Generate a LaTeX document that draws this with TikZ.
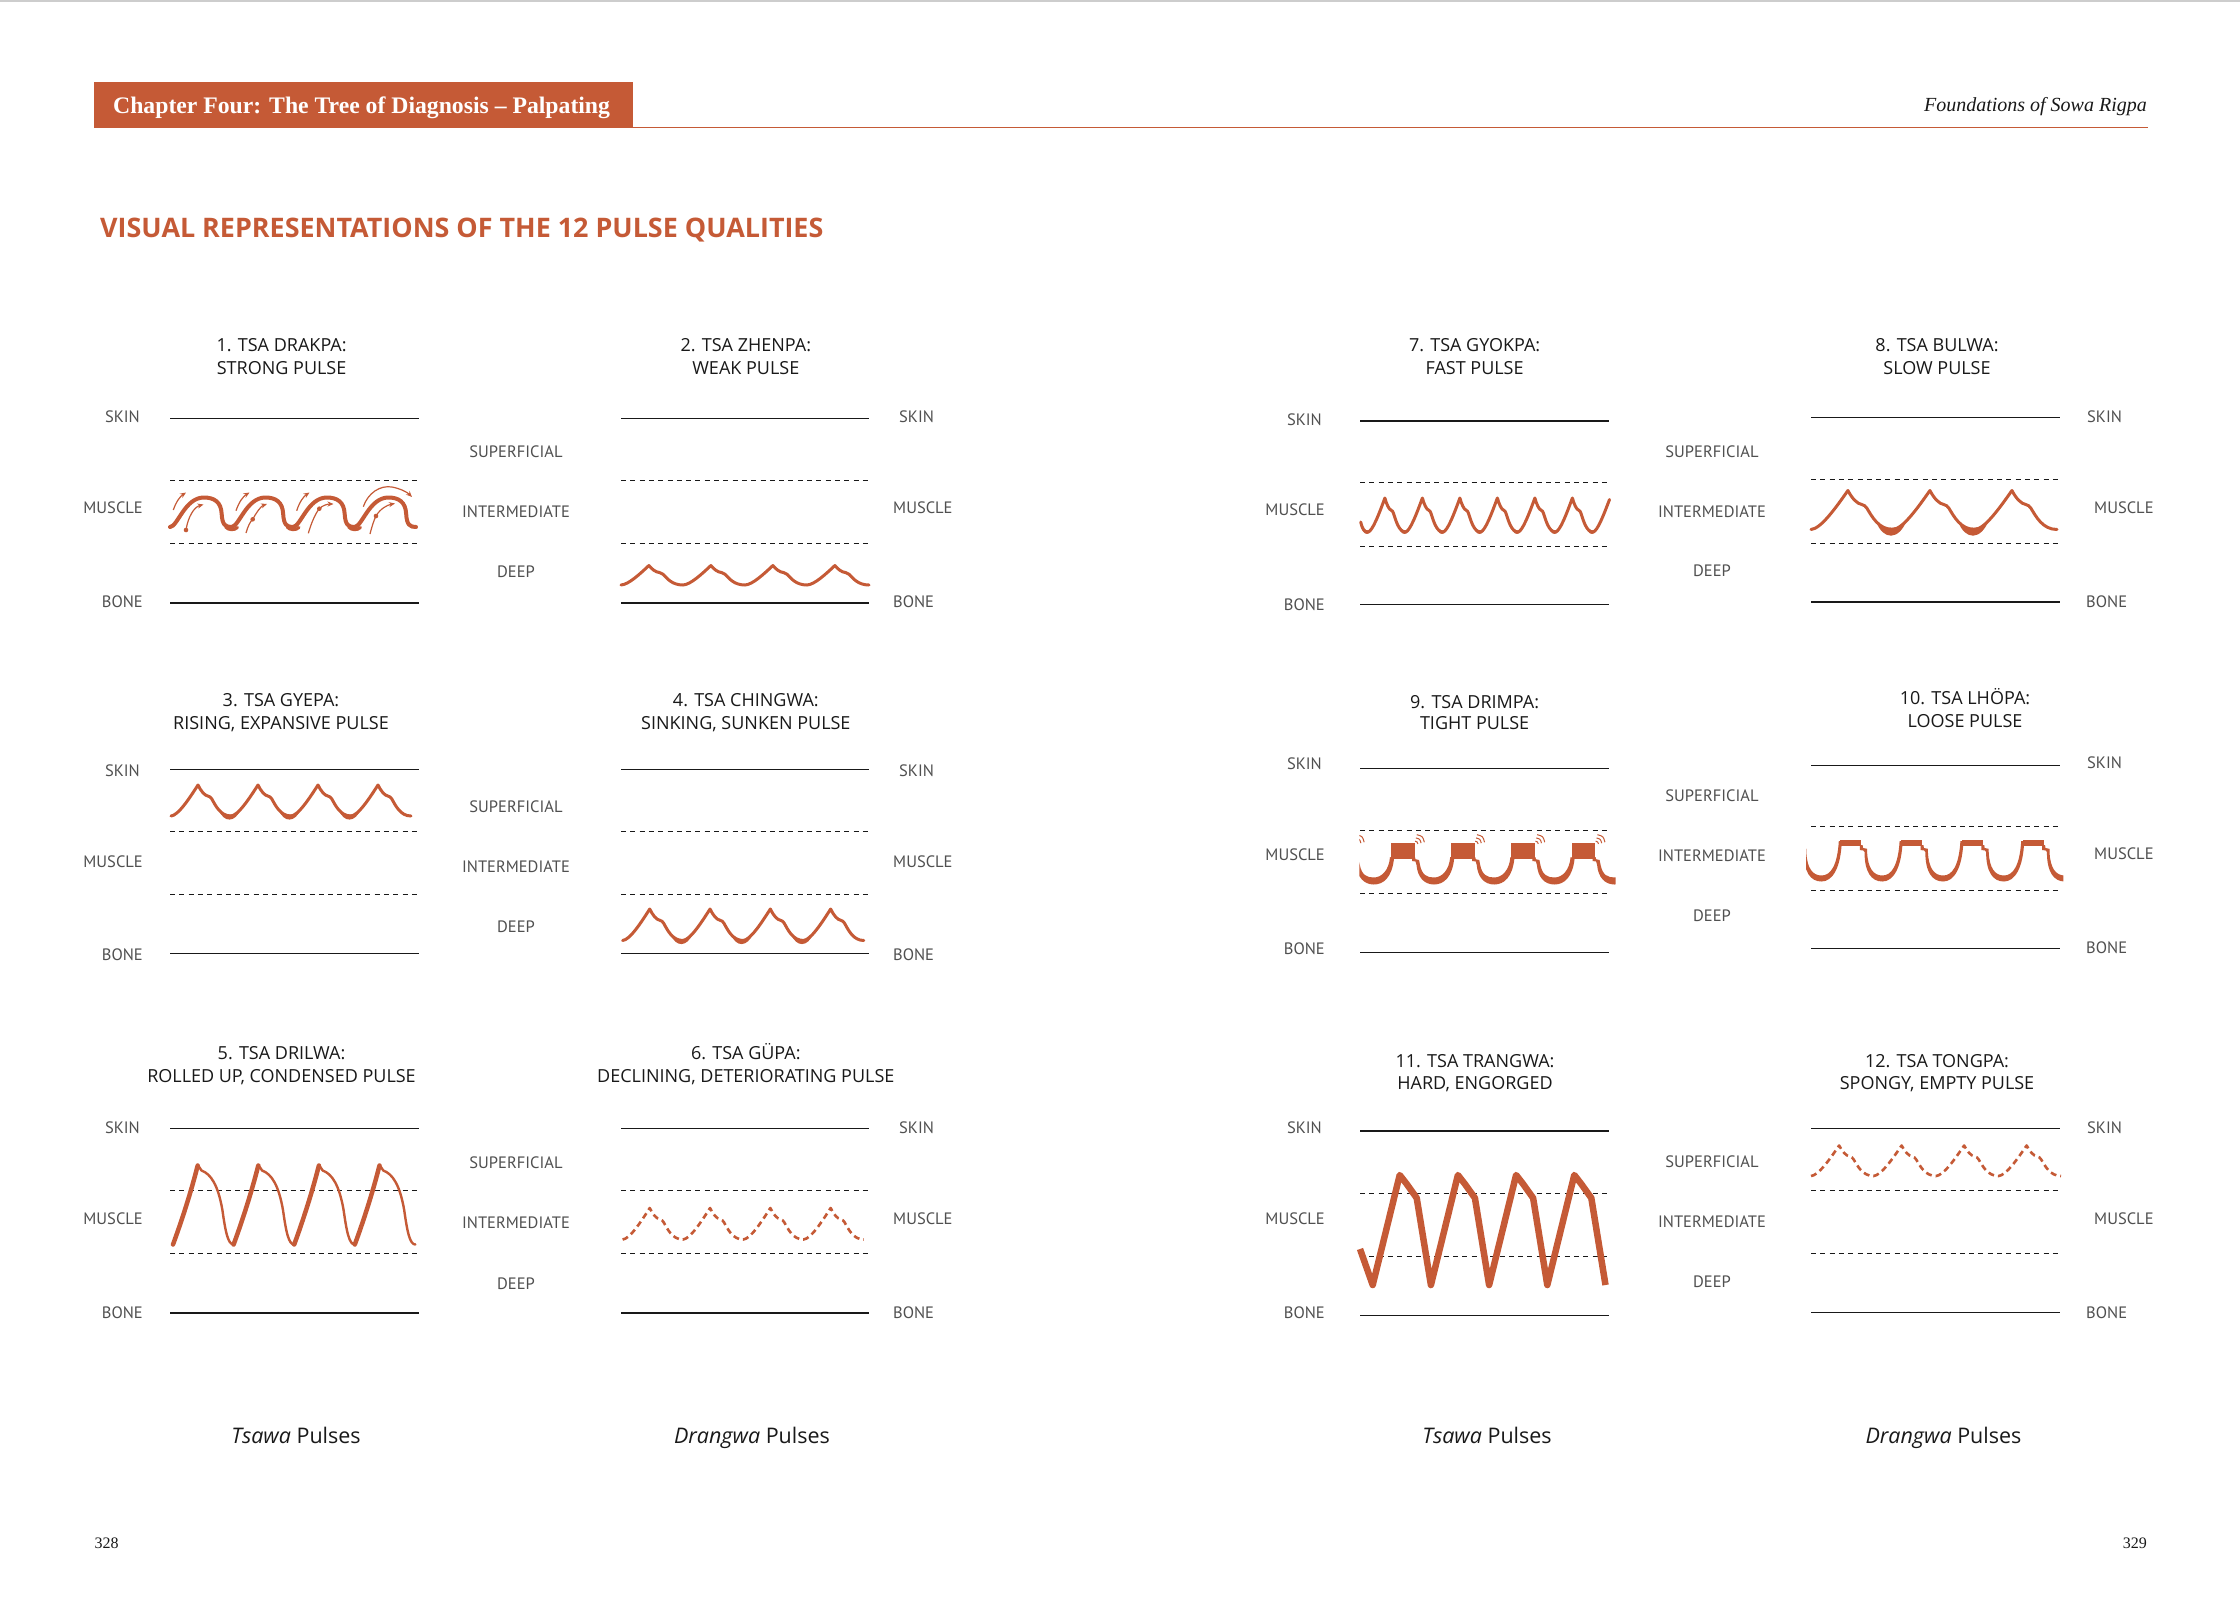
\documentclass[tikz,border=0pt]{standalone}
\usepackage{fontspec}
\setmainfont{Liberation Serif}
\newfontfamily\labfont{PT Sans}
\newfontfamily\ttlfont{Open Sans}
\usetikzlibrary{arrows.meta}
\definecolor{ora}{RGB}{197,90,54}
\definecolor{labgray}{RGB}{80,80,80}
\definecolor{ink}{RGB}{25,25,25}
\definecolor{topgray}{RGB}{205,205,205}
\tikzset{
  lvl/.style={draw=ink, line width=1.6pt},
  dsh/.style={draw=ink, line width=1.5pt, dash pattern=on 5pt off 4.3pt},
  lbl/.style={font=\labfont\fontsize{16.5}{19}\selectfont, text=labgray, inner sep=0pt},
  ttl/.style={font=\ttlfont\fontsize{18}{20}\selectfont, text=ink, inner sep=0pt, anchor=base},
  wave/.style={draw=ora, line width=3pt, line cap=round, line join=round},
  dwave/.style={line width=2.6pt, line cap=butt, dash pattern=on 6pt off 4pt},
  arr/.style={draw=ora, line width=1.2pt, -{Stealth[length=6pt,width=5pt]}},
  capt/.style={font=\ttlfont\fontsize{21.5}{24}\selectfont, text=ink, inner sep=0pt, anchor=base},
}
\newcommand\levels[6]{%
  \draw[lvl] (#1,#3) -- (#2,#3);
  \draw[dsh] (#1,#4) -- (#2,#4);
  \draw[dsh] (#1,#5) -- (#2,#5);
  \draw[lvl] (#1,#6) -- (#2,#6);}
% x0, ybase, period, amplitude, last index, extra style
\newcommand\artwave[6]{%
  \draw[wave,#6] (#1,#2) \foreach \k in {0,...,#5}{
    .. controls ({#1+(\k+0.12)*#3},{#2-0.02*#4}) and ({#1+(\k+0.30)*#3},{#2-0.55*#4}) .. ({#1+(\k+0.45)*#3},{#2-#4})
    .. controls ({#1+(\k+0.50)*#3},{#2-0.80*#4}) and ({#1+(\k+0.56)*#3},{#2-0.66*#4}) .. ({#1+(\k+0.62)*#3},{#2-0.64*#4})
    .. controls ({#1+(\k+0.65)*#3},{#2-0.63*#4}) and ({#1+(\k+0.66)*#3},{#2-0.60*#4}) .. ({#1+(\k+0.68)*#3},{#2-0.55*#4})
    .. controls ({#1+(\k+0.74)*#3},{#2-0.35*#4}) and ({#1+(\k+0.82)*#3},{#2}) .. ({#1+(\k+1)*#3},{#2})
  };}
% trough T, ybase, period, amplitude, depth
\newcommand\crescent[5]{%
  \fill[ora] ({#1-0.205*#3},{#2-0.2*#4}) .. controls ({#1-0.12*#3},{#2+#5}) and ({#1+0.07*#3},{#2+#5}) .. ({#1+0.167*#3},{#2-0.231*#4})
    .. controls ({#1+0.07*#3},{#2+0.5}) and ({#1-0.1*#3},{#2+0.5}) .. cycle;}
\begin{document}
\begin{tikzpicture}[x=1pt,y=-1pt]
\useasboundingbox (0,0) rectangle (2240,1604);
\fill[white] (0,0) rectangle (2240,1604);
\draw[topgray, line width=2pt] (0,1) -- (2240,1);

% ---------- header ----------
\fill[ora] (94,82) rectangle (633,128);
\draw[ora, line width=1.5pt] (633,127.3) -- (2148,127.3);
\node[anchor=base west, inner sep=0pt, text=white, font=\bfseries\fontsize{23.7}{26}\selectfont] (chap) at (113,113.3) {Chapter Four: The Tree of Diagnosis – Palpating};
\node[anchor=base east, inner sep=0pt, text=ink, font=\itshape\fontsize{20}{24}\selectfont] (book) at (2147,111.7) {Foundations of Sowa Rigpa};
\node[anchor=base west, inner sep=0pt, text=ora, font=\ttlfont\bfseries\fontsize{26.9}{30}\selectfont] (head) at (100,237.5) {VISUAL REPRESENTATIONS OF THE 12 PULSE QUALITIES};

% ---------- level lines ----------
\levels{170}{419}{418.3}{480.3}{543.3}{602.7}
\levels{621}{869.4}{418.3}{480.3}{543.3}{602.7}
\levels{170}{419}{769.3}{831.3}{894.3}{953.3}
\levels{621}{869.4}{769.3}{831.3}{894.3}{953.3}
\levels{170}{419}{1128.3}{1190.3}{1253.3}{1312.7}
\levels{621}{869.4}{1128.3}{1190.3}{1253.3}{1312.7}
\levels{1360}{1609}{421}{482.3}{546.3}{604.3}
\levels{1811}{2060}{417.3}{479.3}{543.3}{601.7}
\levels{1360}{1609}{768.3}{830.3}{893.3}{952.3}
\levels{1811}{2060}{765.3}{826.6}{890.3}{948.3}
\levels{1360}{1609}{1131}{1193.3}{1256.3}{1315.3}
\levels{1811}{2060}{1128.3}{1190.3}{1253.3}{1312.3}

% ---------- titles ----------
\node[ttl] (t1a) at (281.6,351) {1. TSA DRAKPA:};
\node[ttl] (t1b) at (281.6,374) {STRONG PULSE};
\node[ttl] (t2a) at (745.8,351) {2. TSA ZHENPA:};
\node[ttl] (t2b) at (745.8,374) {WEAK PULSE};
\node[ttl] (t3a) at (281,706) {3. TSA GYEPA:};
\node[ttl] (t3b) at (281,729) {RISING, EXPANSIVE PULSE};
\node[ttl] (t4a) at (745.8,706) {4. TSA CHINGWA:};
\node[ttl] (t4b) at (745.8,729) {SINKING, SUNKEN PULSE};
\node[ttl] (t5a) at (281.5,1059.5) {5. TSA DRILWA:};
\node[ttl] (t5b) at (281.5,1082.3) {ROLLED UP, CONDENSED PULSE};
\node[ttl] (t6a) at (745.8,1059.5) {6. TSA GÜPA:};
\node[ttl] (t6b) at (745.8,1082.3) {DECLINING, DETERIORATING PULSE};
\node[ttl] (t7a) at (1474.6,351) {7. TSA GYOKPA:};
\node[ttl] (t7b) at (1474.6,374) {FAST PULSE};
\node[ttl] (t8a) at (1937,351) {8. TSA BULWA:};
\node[ttl] (t8b) at (1937,374) {SLOW PULSE};
\node[ttl] (t9a) at (1474.6,708) {9. TSA DRIMPA:};
\node[ttl] (t9b) at (1474.6,729.5) {TIGHT PULSE};
\node[ttl] (t10a) at (1965,704.5) {10. TSA LHÖPA:};
\node[ttl] (t10b) at (1965,727) {LOOSE PULSE};
\node[ttl] (t11a) at (1475,1067) {11. TSA TRANGWA:};
\node[ttl] (t11b) at (1475,1089) {HARD, ENGORGED};
\node[ttl] (t12a) at (1937,1067) {12. TSA TONGPA:};
\node[ttl] (t12b) at (1937,1089) {SPONGY, EMPTY PULSE};

% ---------- labels, left page ----------
\node[lbl, anchor=base east] (sa1) at (140,422.5) {SKIN};
\node[lbl, anchor=base east] (ma1) at (143,513.5) {MUSCLE};
\node[lbl, anchor=base east] (ba1) at (143,607.5) {BONE};
\node[lbl, anchor=base west] (sb1) at (899,422.5) {SKIN};
\node[lbl, anchor=base west] (mb1) at (893,513.5) {MUSCLE};
\node[lbl, anchor=base west] (bb1) at (893,607.5) {BONE};
\node[lbl, anchor=base] (su1) at (516,457.5) {SUPERFICIAL};
\node[lbl, anchor=base] (in1) at (516,517.5) {INTERMEDIATE};
\node[lbl, anchor=base] (de1) at (516,577.5) {DEEP};

\node[lbl, anchor=base east] (sa2) at (140,776.5) {SKIN};
\node[lbl, anchor=base east] (ma2) at (143,867.5) {MUSCLE};
\node[lbl, anchor=base east] (ba2) at (143,960.7) {BONE};
\node[lbl, anchor=base west] (sb2) at (899,776.5) {SKIN};
\node[lbl, anchor=base west] (mb2) at (893,867.5) {MUSCLE};
\node[lbl, anchor=base west] (bb2) at (893,960.7) {BONE};
\node[lbl, anchor=base] (su2) at (516,812.5) {SUPERFICIAL};
\node[lbl, anchor=base] (in2) at (516,872.5) {INTERMEDIATE};
\node[lbl, anchor=base] (de2) at (516,932.5) {DEEP};

\node[lbl, anchor=base east] (sa3) at (140,1133.5) {SKIN};
\node[lbl, anchor=base east] (ma3) at (143,1224.5) {MUSCLE};
\node[lbl, anchor=base east] (ba3) at (143,1318.5) {BONE};
\node[lbl, anchor=base west] (sb3) at (899,1133.5) {SKIN};
\node[lbl, anchor=base west] (mb3) at (893,1224.5) {MUSCLE};
\node[lbl, anchor=base west] (bb3) at (893,1318.5) {BONE};
\node[lbl, anchor=base] (su3) at (516,1168.5) {SUPERFICIAL};
\node[lbl, anchor=base] (in3) at (516,1228.5) {INTERMEDIATE};
\node[lbl, anchor=base] (de3) at (516,1289) {DEEP};

% ---------- labels, right page ----------
\node[lbl, anchor=base east] (sa4) at (1322,425.7) {SKIN};
\node[lbl, anchor=base east] (ma4) at (1325,515.7) {MUSCLE};
\node[lbl, anchor=base east] (ba4) at (1325,610) {BONE};
\node[lbl, anchor=base west] (sb4) at (2087,422.5) {SKIN};
\node[lbl, anchor=base west] (mb4) at (2094,513.5) {MUSCLE};
\node[lbl, anchor=base west] (bb4) at (2086,607.5) {BONE};
\node[lbl, anchor=base] (su4) at (1712,457.5) {SUPERFICIAL};
\node[lbl, anchor=base] (in4) at (1712,517.5) {INTERMEDIATE};
\node[lbl, anchor=base] (de4) at (1712,576.7) {DEEP};

\node[lbl, anchor=base east] (sa5) at (1322,769) {SKIN};
\node[lbl, anchor=base east] (ma5) at (1325,860) {MUSCLE};
\node[lbl, anchor=base east] (ba5) at (1325,954.5) {BONE};
\node[lbl, anchor=base west] (sb5) at (2087,768.5) {SKIN};
\node[lbl, anchor=base west] (mb5) at (2094,859) {MUSCLE};
\node[lbl, anchor=base west] (bb5) at (2086,953.5) {BONE};
\node[lbl, anchor=base] (su5) at (1712,801.5) {SUPERFICIAL};
\node[lbl, anchor=base] (in5) at (1712,861.5) {INTERMEDIATE};
\node[lbl, anchor=base] (de5) at (1712,921.5) {DEEP};

\node[lbl, anchor=base east] (sa6) at (1322,1133.5) {SKIN};
\node[lbl, anchor=base east] (ma6) at (1325,1224.5) {MUSCLE};
\node[lbl, anchor=base east] (ba6) at (1325,1318.5) {BONE};
\node[lbl, anchor=base west] (sb6) at (2087,1133.5) {SKIN};
\node[lbl, anchor=base west] (mb6) at (2094,1224.5) {MUSCLE};
\node[lbl, anchor=base west] (bb6) at (2086,1318.5) {BONE};
\node[lbl, anchor=base] (su6) at (1712,1167.5) {SUPERFICIAL};
\node[lbl, anchor=base] (in6) at (1712,1227.5) {INTERMEDIATE};
\node[lbl, anchor=base] (de6) at (1712,1287) {DEEP};

% ---------- 1 strong ----------
\draw[wave, line width=4pt] (170,527) \foreach \k in {0,...,3}{
  .. controls ({170+(\k+0.12)*61.5},527) and ({170+(\k+0.24)*61.5},497.5) .. ({170+(\k+0.55)*61.5},497.5)
  .. controls ({170+(\k+0.72)*61.5},497.5) and ({170+(\k+0.83)*61.5},502) .. ({170+(\k+0.84)*61.5},513.7)
  .. controls ({170+(\k+0.85)*61.5},525) and ({170+(\k+0.9)*61.5},527) .. ({170+(\k+1)*61.5},527)};
\foreach \t in {231.5,293,354.5}{
  \draw[ora, line width=3pt, line cap=round] ({\t-6},527) .. controls ({\t-3},530.5) and ({\t+3},530.5) .. ({\t+6},527.5);}
\draw[arr] (173.3,510) .. controls (176,502) and (180,496.5) .. (186,492.5);
\draw[arr] (186,530) .. controls (188,517) and (194,507) .. (203.5,504.5);
\fill[ora] (186,530) circle[radius=2.3];
\draw[arr] (236,510.7) .. controls (239,502) and (243,496.5) .. (249.5,492.5);
\draw[arr] (246,533) .. controls (248,526) and (250,522) .. (252.7,519.3) .. controls (256,513) and (261,506) .. (267,504);
\fill[ora] (252.7,519.3) circle[radius=2.3];
\draw[arr] (296.7,510.7) .. controls (299.5,502) and (303.5,496.5) .. (309.5,492.5);
\draw[arr] (308.3,533.3) .. controls (311,524) and (315,514) .. (319.3,508.7) .. controls (323,505) and (328,504) .. (333.5,504);
\fill[ora] (319.3,508.7) circle[radius=2.3];
\draw[arr] (363.3,506.7) .. controls (368,493) and (380,485) .. (392,487) .. controls (400,488.5) and (407,492) .. (412,497);
\draw[arr] (370,534) .. controls (372,526) and (374,520) .. (376,516) .. controls (380,509) and (387,505) .. (395,503.5);
\fill[ora] (376,516) circle[radius=2.3];

% ---------- 2 weak ----------
\artwave{621}{585}{62}{19.5}{3}{}

% ---------- 3 rising ----------
\artwave{171}{816}{60}{31}{3}{}
\foreach \k in {1,2,3}{\crescent{171+\k*60}{816}{60}{31}{7}}

% ---------- 4 sinking ----------
\artwave{622.6}{940.5}{60.3}{31.5}{3}{}
\foreach \k in {1,2,3}{\crescent{622.6+\k*60.3}{940.5}{60.3}{31.5}{7}}

% ---------- 5 rolled up ----------
\foreach \k in {0,...,3}{
  \pgfmathsetmacro\xs{173+\k*60.6}
  \draw[wave, line width=4.5pt] (\xs,1244.5) .. controls ({\xs+9},1220) and ({\xs+18},1192) .. ({\xs+24.7},1165.5);
  \draw[wave, line width=2.4pt] ({\xs+24.7},1164.8) -- ({\xs+28.5},1170.5) .. controls ({\xs+38},1174) and ({\xs+45},1185) .. ({\xs+49.4},1210) .. controls ({\xs+52.5},1232) and ({\xs+55},1244.5) .. ({\xs+60.6},1244.5);
}

% ---------- 6 declining ----------
\artwave{622.6}{1239.5}{60.3}{31.5}{3}{dwave}

% ---------- 7 fast ----------
\draw[wave] (1360.7,522) .. controls (1362.5,529.5) and (1364.5,532) .. (1368,532);
\artwave{1368}{532}{37.5}{34}{5}{}
\draw[wave] (1593,532) .. controls (1597.5,531.3) and (1604,514) .. (1609.5,499.5);
\foreach \k in {0,...,6}{\crescent{1368+\k*37.5}{532}{37.5}{34}{5}}

% ---------- 8 slow ----------
\artwave{1811}{529.5}{82}{39}{2}{}
\foreach \k in {1,2}{\crescent{1811+\k*82}{529.5}{82}{39}{11}}

% ---------- 9 tight ----------
\begin{scope}
\clip (1359.3,820) rectangle (1615.5,900);
\foreach \k in {-1,...,3}{
  \pgfmathsetmacro\xb{1391+\k*60.2}
  \fill[ora] (\xb,843.3) rectangle ({\xb+23.5},858.5);
  \fill[ora] ({\xb+29},865) .. controls ({\xb+31},875) and ({\xb+36},877.5) .. ({\xb+43},877.5)
    .. controls ({\xb+51},877.5) and ({\xb+58.2},870) .. ({\xb+59.2},857)
    -- ({\xb+63.2},858.5)
    .. controls ({\xb+61.2},877) and ({\xb+53},884.5) .. ({\xb+43},884.5)
    .. controls ({\xb+33},884.5) and ({\xb+26.5},877) .. ({\xb+25.5},865)
    -- ({\xb+24.5},861.5) -- ({\xb+21},861) -- ({\xb+21},857) -- ({\xb+24},857) -- ({\xb+24.5},859.2) -- ({\xb+28},860) -- cycle;
  \foreach \r in {4,7.3,10.7}{
    \draw[ora, line width=1pt] ({\xb+23+0.966*\r},{845-0.259*\r}) .. controls ({\xb+23+0.813*\r},{845-0.813*\r}) .. ({\xb+23+0.259*\r},{845-0.966*\r});}
}
\end{scope}

% ---------- 10 loose ----------
\begin{scope}
\clip (1806,820) rectangle (2063.4,900);
\foreach \k in {-1,...,3}{
  \pgfmathsetmacro\xb{1840.3+\k*60.8}
  \fill[ora] (\xb,840.3) rectangle ({\xb+21},846.3);
  \fill[ora] ({\xb+26.8},852) .. controls ({\xb+27.5},868) and ({\xb+33},875.5) .. ({\xb+42},875.5)
    .. controls ({\xb+51},875.5) and ({\xb+57.8},866) .. ({\xb+59.3},841)
    -- ({\xb+62.3},841)
    .. controls ({\xb+61.3},868) and ({\xb+53},881.5) .. ({\xb+42},881.5)
    .. controls ({\xb+31},881.5) and ({\xb+24.2},872) .. ({\xb+24.2},852)
    -- ({\xb+23},850.5) -- ({\xb+19.5},850) -- ({\xb+19.5},845) -- ({\xb+22.3},845) -- ({\xb+22.8},848) -- ({\xb+26.8},848.8) -- cycle;
}
\end{scope}

% ---------- 11 hard ----------
\draw[wave, line width=6.5pt, line cap=butt] (1360,1249) -- (1372.7,1285) \foreach \k in {0,...,3}{
  -- ({1372.7+\k*58.2+27},1175) -- ({1372.7+\k*58.2+34},1184) -- ({1372.7+\k*58.2+44},1198) -- ({1372.7+(\k+1)*58.2},1285)};

% ---------- 12 spongy ----------
\artwave{1811}{1176}{62.5}{30.5}{3}{dwave}

% ---------- captions and page numbers ----------
\node[capt] (c1) at (296,1443) {\textit{Tsawa} Pulses};
\node[capt] (c2) at (752,1443) {\textit{Drangwa} Pulses};
\node[capt] (c3) at (1487,1443) {\textit{Tsawa} Pulses};
\node[capt] (c4) at (1943.5,1443) {\textit{Drangwa} Pulses};
\node[anchor=base west, inner sep=0pt, text=ink, font=\fontsize{16}{18}\selectfont] (pg1) at (94.4,1548) {328};
\node[anchor=base east, inner sep=0pt, text=ink, font=\fontsize{16}{18}\selectfont] (pg2) at (2147,1548) {329};
\end{tikzpicture}
\end{document}
